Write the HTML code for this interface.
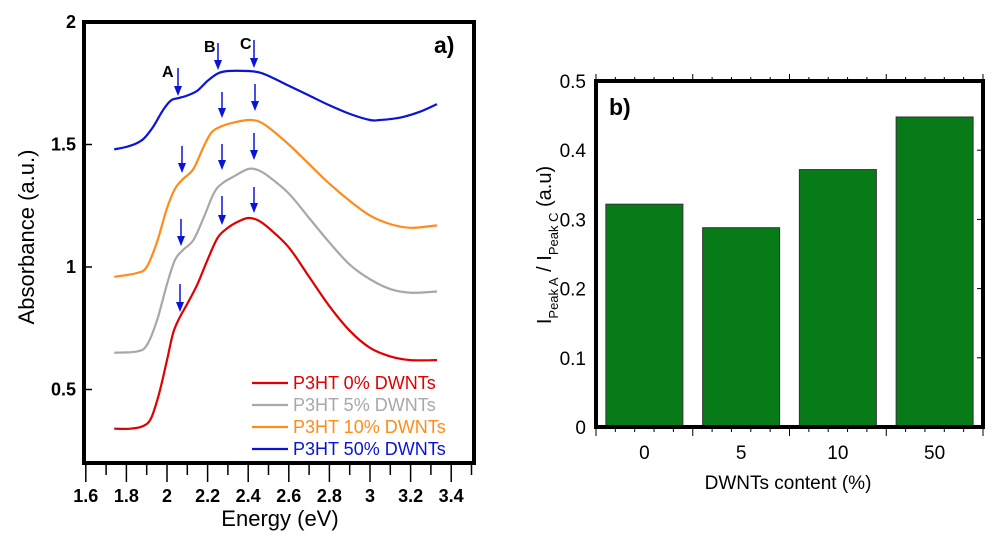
<!DOCTYPE html>
<html><head><meta charset="utf-8"><style>
body{margin:0;background:#fff;}
svg{display:block;font-family:"Liberation Sans",Arial,sans-serif;}
</style></head><body>
<svg id="chart" width="1000" height="537" viewBox="0 0 1000 537">
<g id="left"></g>
<g id="right"></g>
</svg>
<script>
// ---- Left chart data ----
const redX = [1.74,1.82,1.88,1.92,1.96,2.0,2.03,2.06,2.1,2.15,2.2,2.25,2.3,2.35,2.4,2.45,2.5,2.6,2.7,2.8,2.9,3.0,3.1,3.2,3.33];
const redY = [0.34,0.34,0.35,0.38,0.48,0.62,0.73,0.79,0.85,0.93,1.03,1.12,1.16,1.185,1.2,1.19,1.16,1.08,0.96,0.84,0.74,0.67,0.635,0.62,0.62];
const grayX = [1.74,1.85,1.9,1.95,2.0,2.04,2.08,2.13,2.18,2.23,2.27,2.33,2.4,2.45,2.5,2.6,2.7,2.8,2.9,3.0,3.1,3.2,3.33];
const grayY = [0.65,0.655,0.68,0.78,0.93,1.03,1.07,1.11,1.2,1.3,1.34,1.37,1.4,1.395,1.37,1.3,1.2,1.1,1.01,0.95,0.91,0.895,0.9];
const orangeX = [1.74,1.85,1.9,1.95,2.0,2.04,2.08,2.13,2.18,2.22,2.27,2.33,2.4,2.45,2.5,2.6,2.7,2.8,2.9,3.0,3.1,3.2,3.33];
const orangeY = [0.96,0.975,1.0,1.1,1.24,1.32,1.36,1.4,1.49,1.55,1.575,1.59,1.6,1.595,1.57,1.5,1.42,1.34,1.27,1.21,1.175,1.16,1.17];
const blueX = [1.74,1.82,1.88,1.93,1.98,2.02,2.06,2.1,2.15,2.2,2.25,2.3,2.4,2.45,2.5,2.6,2.7,2.8,2.9,3.0,3.05,3.15,3.25,3.33];
const blueY = [1.48,1.495,1.52,1.57,1.64,1.68,1.69,1.70,1.72,1.76,1.79,1.8,1.8,1.795,1.78,1.74,1.70,1.66,1.625,1.6,1.6,1.61,1.635,1.665];
const xTickLabels = ["1.6","1.8","2","2.2","2.4","2.6","2.8","3","3.2","3.4"];
const yTickLabels = ["0.5","1","1.5","2"];
const legendLabels = ["P3HT 0% DWNTs","P3HT 5% DWNTs","P3HT 10% DWNTs","P3HT 50% DWNTs"];
// ---- Right chart data ----
const barCategories = ["0","5","10","50"];
const barValues = [0.322,0.288,0.372,0.448];
const barTickLabels = ["0","0.1","0.2","0.3","0.4","0.5"];

const NS="http://www.w3.org/2000/svg";
function mk(parent,tag,attrs,text){const e=document.createElementNS(NS,tag);for(const k in attrs)e.setAttribute(k,attrs[k]);if(text!==undefined)e.textContent=text;parent.appendChild(e);return e;}

// Left axes
const L=document.getElementById('left');
const xL=v=>167+(v-2)*203;
const yL=v=>22+(2-v)*245;
const series=[[redX,redY,"#e00000","red-curve"],[grayX,grayY,"#a8a8a8","gray-curve"],[orangeX,orangeY,"#ff8c1a","orange-curve"],[blueX,blueY,"#0a14d8","blue-curve"]];
series.forEach(s=>{
  const pts=s[0].map((x,i)=>[xL(x),yL(s[1][i])]);
  let d="M"+pts[0][0]+","+pts[0][1];
  for(let i=0;i<pts.length-1;i++){
    const p0=pts[Math.max(0,i-1)],p1=pts[i],p2=pts[i+1],p3=pts[Math.min(pts.length-1,i+2)];
    d+=" C"+(p1[0]+(p2[0]-p0[0])/6)+","+(p1[1]+(p2[1]-p0[1])/6)+" "+(p2[0]-(p3[0]-p1[0])/6)+","+(p2[1]-(p3[1]-p1[1])/6)+" "+p2[0]+","+p2[1];
  }
  const p=mk(L,'path',{d:d,fill:"none",stroke:s[2],"stroke-width":2.2});
  
  
});
const fr=mk(L,'rect',{x:84,y:22,width:390,height:441,fill:"none",stroke:"#000","stroke-width":4});


for(let i=0;i<=19;i++){
  const v=1.6+i*0.1,x=xL(v);
  mk(L,'line',{x1:x,y1:463,x2:x,y2:i%2==0?482:475,stroke:"#000","stroke-width":1.5});
}
xTickLabels.forEach(t=>{
  const e=mk(L,'text',{x:xL(parseFloat(t)),y:502,"text-anchor":"middle","font-size":18,"font-weight":"bold"},t);
  
  
});
yTickLabels.forEach(t=>{
  const v=parseFloat(t);
  mk(L,'line',{x1:84,y1:yL(v),x2:92,y2:yL(v),stroke:"#000","stroke-width":1.5});
  const e=mk(L,'text',{x:76,y:yL(v)+6,"text-anchor":"end","font-size":18,"font-weight":"bold"},t);
  
  
});
let t=mk(L,'text',{x:0,y:0,transform:"translate(34,237) rotate(-90)","text-anchor":"middle","font-size":22},"Absorbance (a.u.)");


t=mk(L,'text',{x:280,y:526,"text-anchor":"middle","font-size":22},"Energy (eV)");


t=mk(L,'text',{x:434,y:53,"font-size":23,"font-weight":"bold"},"a)");


[["A",162,77],["B",204,52],["C",240,49]].forEach(a=>{
  const e=mk(L,'text',{x:a[1],y:a[2],"font-size":16,"font-weight":"bold"},a[0]);
  
  
});
[[178,68,96],[218,43,70],[254,40,68],[222,92,118],[255,84,111],[182,146,173],[222,144,170],[254,133,160],[181,219,246],[222,196,225],[254,187,213],[180,284,312]].forEach(a=>{
  const g=mk(L,'g',{});
  
  
  mk(g,'line',{x1:a[0],y1:a[1],x2:a[0],y2:a[2]-6,stroke:"#0a14d8","stroke-width":1.5});
  mk(g,'path',{d:`M${a[0]-4},${a[2]-10} L${a[0]+4},${a[2]-10} L${a[0]},${a[2]} Z`,fill:"#0a14d8"});
});
legendLabels.forEach((lab,i)=>{
  const y=383+i*22,c=series[i][2];
  const g=mk(L,'g',{});
  
  
  mk(g,'line',{x1:252,y1:y,x2:288,y2:y,stroke:c,"stroke-width":2.2});
  mk(g,'text',{x:293,y:y+6,"font-size":18,fill:c},lab);
});

// Right chart
const R=document.getElementById('right');
const yR=v=>427-v*692;
const catW=(983-596)/4;
barCategories.forEach((c,i)=>{
  const cx=596+catW*(i+0.5);
  const r=mk(R,'rect',{x:cx-38.5,y:yR(barValues[i]),width:77,height:427-yR(barValues[i]),fill:"#067b17",stroke:"#333","stroke-width":1});
  
  
  const e=mk(R,'text',{x:cx,y:459,"text-anchor":"middle","font-size":19},c);
  
  
});
const fr2=mk(R,'rect',{x:596,y:81,width:387,height:346,fill:"none",stroke:"#000","stroke-width":4});


for(let i=0;i<=20;i++){
  const x=596+i*catW/5,big=i%5==0;
  mk(R,'line',{x1:x,y1:427,x2:x,y2:big?436:432,stroke:"#000","stroke-width":1});
  mk(R,'line',{x1:x,y1:81,x2:x,y2:big?74:77,stroke:"#000","stroke-width":1});
}
barTickLabels.forEach(s=>{
  const v=parseFloat(s);
  mk(R,'line',{x1:983,y1:yR(v),x2:977,y2:yR(v),stroke:"#000","stroke-width":1});
  const e=mk(R,'text',{x:586,y:yR(v)+7,"text-anchor":"end","font-size":19},s);
  
  
});
t=mk(R,'text',{x:788,y:489,"text-anchor":"middle","font-size":19},"DWNTs content (%)");


t=mk(R,'text',{x:609,y:115,"font-size":23,"font-weight":"bold"},"b)");


const yt=mk(R,'text',{transform:"translate(551,245) rotate(-90)","text-anchor":"middle","font-size":20});


yt.innerHTML='I<tspan font-size="13" dy="7">Peak A</tspan><tspan dy="-7"> / I</tspan><tspan font-size="13" dy="7">Peak C</tspan><tspan dy="-7">  (a.u)</tspan>';
</script>
</body></html>
